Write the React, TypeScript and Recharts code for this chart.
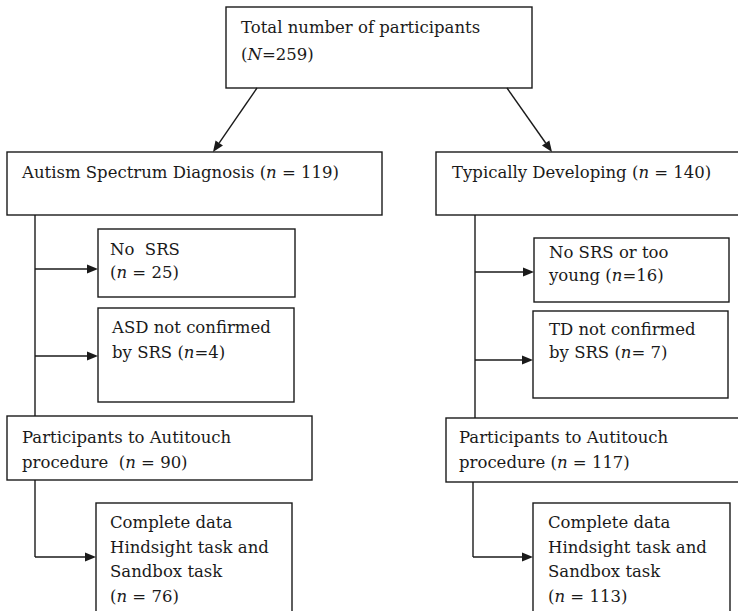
import { ScatterChart, XAxis, YAxis, ReferenceArea, ReferenceLine } from "recharts";

const W = 738;
const H = 611;

// participant counts
const totalN = 259;
const groupN = [119, 140];
const noSrsN = [25, 16];
const notConfirmedN = [4, 7];
const autitouchN = [90, 117];
const completeN = [76, 113];

// text per box, *n* marks italic
const boxLines: string[][] = [
  ["Total number of participants", `(*N*=${totalN})`],
  [`Autism Spectrum Diagnosis (*n* = ${groupN[0]})`],
  [`Typically Developing (*n* = ${groupN[1]})`],
  ["No  SRS", `(*n* = ${noSrsN[0]})`],
  ["ASD not confirmed", `by SRS (*n*=${notConfirmedN[0]})`],
  ["No SRS or too", `young (*n*=${noSrsN[1]})`],
  ["TD not confirmed", `by SRS (*n*= ${notConfirmedN[1]})`],
  ["Participants to Autitouch", `procedure  (*n* = ${autitouchN[0]})`],
  ["Participants to Autitouch", `procedure (*n* = ${autitouchN[1]})`],
  ["Complete data", "Hindsight task and", "Sandbox task", `(*n* = ${completeN[0]})`],
  ["Complete data", "Hindsight task and", "Sandbox task", `(*n* = ${completeN[1]})`],
];

// box corners in diagram units
const boxX1 = [226, 7, 436, 98, 98, 534, 533, 7, 446, 96, 533];
const boxY1 = [7, 152, 152, 229, 308, 238, 311, 416, 418, 503, 503];
const boxX2 = [532, 382, 745, 295, 294, 729, 728, 312, 745, 292, 730];
const boxY2 = [88, 215, 215, 297, 402, 302, 398, 480, 482, 620, 620];

// connectors: [x1, y1, x2, y2, arrow]
const connectors: [number, number, number, number, boolean][] = [
  [257, 88, 213, 152, true],
  [507, 88, 552, 152, true],
  [35, 215, 35, 416, false],
  [35, 269, 98, 269, true],
  [35, 356, 98, 356, true],
  [35, 480, 35, 557, false],
  [35, 557, 96, 557, true],
  [475, 215, 475, 418, false],
  [475, 272, 534, 272, true],
  [475, 360, 533, 360, true],
  [473, 482, 473, 557, false],
  [473, 557, 533, 557, true],
];

const padX = [15, 15, 16, 12, 14, 15, 16, 15, 13, 14, 15];
const padY = [26, 26, 26, 26, 25, 20, 24, 27, 25, 25, 25];
const lineGap = [27, 25, 25, 23, 25, 23, 23, 25, 25, 24.5, 24.5];

const INK = "#1a1a1a";
const FONT = "DejaVu Serif";

function RichLine({ text, x, y }: { text: string; x: number; y: number }) {
  const parts = text.split("*");
  return (
    <text x={x} y={y} fill={INK} style={{ whiteSpace: "pre", fontFamily: FONT, fontSize: 16.5 }}>
      {parts.map((p, i) => (
        <tspan key={i} style={{ fontStyle: i % 2 === 1 ? "italic" : "normal" }}>
          {p}
        </tspan>
      ))}
    </text>
  );
}

const makeBoxShape = (idx: number) => (props: any) => {
  const { x, y, width, height } = props;
  return (
    <g>
      <rect x={x} y={y} width={width} height={height} fill="#fff" stroke={INK} strokeWidth={1.4} />
      {boxLines[idx].map((line, j) => (
        <RichLine key={j} text={line} x={x + padX[idx]} y={y + padY[idx] + j * lineGap[idx]} />
      ))}
    </g>
  );
};

const makeConnectorShape = (arrow: boolean) => (props: any) => {
  const { x1, y1, x2, y2 } = props;
  if (x1 == null) return <g />;
  const ang = Math.atan2(y2 - y1, x2 - x1);
  const len = 11;
  const half = 4.5;
  const bx = x2 - len * Math.cos(ang);
  const by = y2 - len * Math.sin(ang);
  const px = -Math.sin(ang) * half;
  const py = Math.cos(ang) * half;
  return (
    <g>
      <line x1={x1} y1={y1} x2={arrow ? bx : x2} y2={arrow ? by : y2} stroke={INK} strokeWidth={1.4} />
      {arrow && (
        <polygon points={`${x2},${y2} ${bx + px},${by + py} ${bx - px},${by - py}`} fill={INK} />
      )}
    </g>
  );
};

export default function App() {
  return (
    <div style={{ position: "absolute", left: 0, top: 0, width: W, height: H, background: "#fff" }}>
      <ScatterChart width={W} height={H} margin={{ top: 0, right: 0, bottom: 0, left: 0 }}>
        <XAxis type="number" dataKey="x" domain={[0, W]} hide allowDataOverflow />
        <YAxis type="number" dataKey="y" domain={[0, H]} reversed hide allowDataOverflow />
        {connectors.map(([x1, y1, x2, y2, arrow], i) => (
          <ReferenceLine
            key={`c${i}`}
            segment={[{ x: x1, y: y1 }, { x: x2, y: y2 }]}
            ifOverflow="visible"
            shape={makeConnectorShape(arrow)}
          />
        ))}
        {boxLines.map((_, i) => (
          <ReferenceArea
            key={`b${i}`}
            x1={boxX1[i]}
            x2={boxX2[i]}
            y1={boxY1[i]}
            y2={boxY2[i]}
            ifOverflow="visible"
            shape={makeBoxShape(i)}
          />
        ))}
      </ScatterChart>
    </div>
  );
}
